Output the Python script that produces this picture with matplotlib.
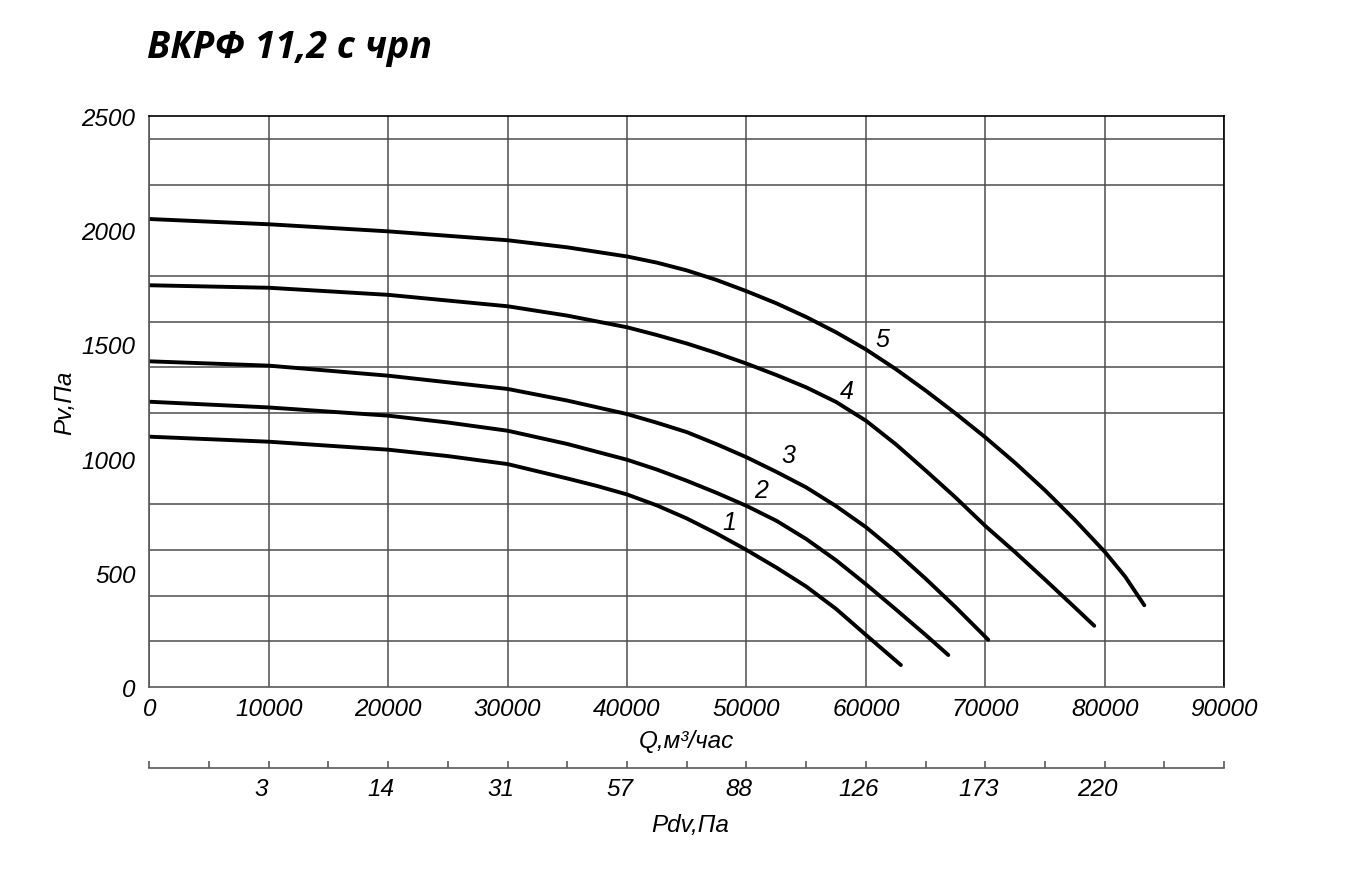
import matplotlib
matplotlib.use('Agg')
import matplotlib.pyplot as plt
import numpy as np

plt.rcParams['font.family'] = ['Liberation Sans Narrow', 'Liberation Sans', 'DejaVu Sans']
plt.rcParams['font.style'] = 'italic'

# данные кривых (Q, м3/час ; Pv, Па)
q1 = [0, 10000, 20000, 25000, 30000, 35000, 37500, 40000, 42500, 45000, 47500, 50000,
      52500, 55000, 57500, 60000, 62930]
p1 = [1096, 1074, 1039, 1011, 976, 913, 880, 843, 795, 738, 672, 600,
      523, 440, 342, 228, 96]

q2 = [0, 10000, 20000, 25000, 30000, 35000, 40000, 42500, 45000, 47500, 50000, 52500,
      55000, 57500, 60000, 62500, 65000, 66900]
p2 = [1249, 1224, 1188, 1158, 1122, 1064, 995, 952, 903, 850, 793, 728,
      648, 555, 450, 340, 228, 140]

q3 = [0, 10000, 20000, 30000, 35000, 40000, 42500, 45000, 47500, 50000, 52500, 55000,
      57500, 60000, 62500, 65000, 67500, 70240]
p3 = [1426, 1407, 1363, 1305, 1254, 1195, 1157, 1116, 1063, 1006, 942, 874,
      792, 700, 592, 474, 350, 207]

q4 = [0, 10000, 20000, 30000, 35000, 40000, 42500, 45000, 47500, 50000, 52500, 55000,
      57500, 60000, 62500, 65000, 67500, 70000, 72500, 75000, 77500, 79120]
p4 = [1759, 1748, 1717, 1667, 1626, 1575, 1541, 1504, 1462, 1416, 1366, 1312,
      1248, 1166, 1063, 948, 830, 705, 590, 470, 348, 268]

q5 = [0, 10000, 20000, 30000, 35000, 40000, 42500, 45000, 47500, 50000, 52500, 55000,
      57500, 60000, 62500, 65000, 67500, 70000, 72500, 75000, 77500, 80000, 81700, 83310]
p5 = [2049, 2026, 1995, 1956, 1925, 1885, 1858, 1824, 1782, 1733, 1680, 1620,
      1553, 1478, 1392, 1298, 1198, 1093, 981, 861, 731, 592, 484, 358]

curves = [(q1, p1, '1'), (q2, p2, '2'), (q3, p3, '3'), (q4, p4, '4'), (q5, p5, '5')]
# подписи кривых
lab_q = [48540, 51230, 53480, 58410, 61420]
lab_p = [722, 862, 1016, 1296, 1524]

# шкала динамического давления
pdv_q = [10000, 20000, 30000, 40000, 50000, 60000, 70000, 80000]
pdv_lab = ['3', '14', '31', '57', '88', '126', '173', '220']

fig = plt.figure(figsize=(13.64, 8.7), dpi=100)
ax = fig.add_axes([0.1095, 0.2092, 0.788, 0.6563])

for q, p, name in curves:
    ax.plot(q, p, color='black', lw=2.8, solid_capstyle='round', solid_joinstyle='round')

for i in range(5):
    ax.text(lab_q[i], lab_p[i], curves[i][2], fontsize=18, ha='center', va='center')

ax.set_xlim(0, 90000)
ax.set_ylim(0, 2500)
ax.set_xticks(np.arange(0, 90001, 10000))
ax.set_yticks(np.arange(0, 2501, 500))
ax.set_yticks(np.arange(0, 2401, 200), minor=True)
ax.tick_params(axis='both', which='both', length=0, labelsize=17.5)
ax.tick_params(axis='x', pad=7)
ax.tick_params(axis='y', pad=10)
ax.grid(False)
ax.grid(True, axis='y', which='minor', color='0.3', lw=1.1)
ax.grid(True, axis='x', which='major', color='0.3', lw=1.1)
for s in ['left', 'bottom']:
    ax.spines[s].set_color('0.35')
for s in ['top', 'right']:
    ax.spines[s].set_color('black')
for s in ax.spines.values():
    s.set_linewidth(1.2)

ax.set_xlabel('Q,м³/час', fontsize=17.5, labelpad=7)
ax.set_ylabel('Pv,Па', fontsize=17.5, labelpad=4)

# вторая шкала Pdv
ax2 = fig.add_axes([0.1095, 0.1161, 0.788, 0.001])
ax2.set_xlim(0, 90000)
ax2.set_yticks([])
for s in ['left', 'right', 'top']:
    ax2.spines[s].set_visible(False)
ax2.spines['bottom'].set_color('0.35')
ax2.spines['bottom'].set_linewidth(1.2)
ax2.set_xticks(np.arange(0, 90001, 5000))
ax2.set_xticklabels([''] * 19)
ax2.tick_params(axis='x', direction='in', length=5, color='0.35', width=1.2)
for q, t in zip(pdv_q, pdv_lab):
    ax2.text(q - 600, -10, t, transform=ax2.get_xaxis_transform(), fontsize=17.5,
             ha='center', va='top')
fig.text(0.506, 0.051, 'Pdv,Па', fontsize=17.5, ha='center', va='center')

fig.text(0.108, 0.945, 'ВКРФ 11,2 с чрп', fontsize=27, fontweight='bold',
         family=['Open Sans', 'DejaVu Sans'], style='italic', ha='left', va='center')

fig.savefig('out.png', dpi=100)
